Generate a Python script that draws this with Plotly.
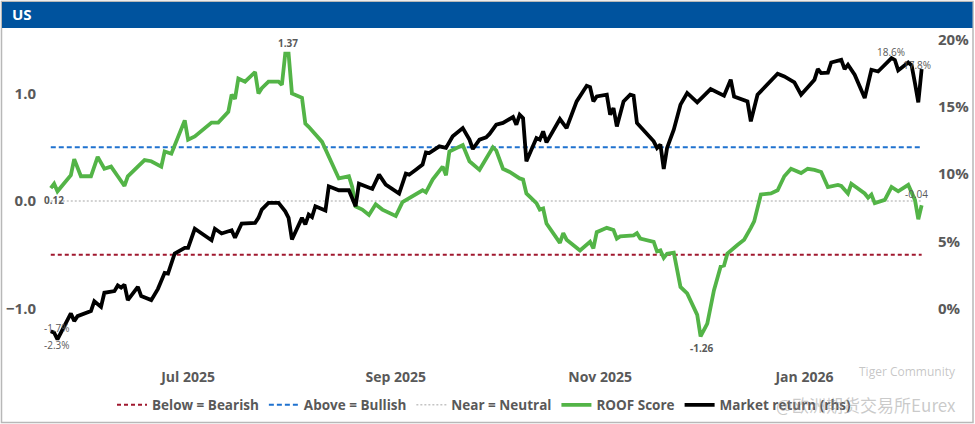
import plotly.graph_objects as go

# ---------------- DATA ----------------
roof_dates = [
    "2025-05-21", "2025-05-22", "2025-05-23", "2025-05-27", "2025-05-28", "2025-05-30",
    "2025-06-02", "2025-06-04", "2025-06-06", "2025-06-08", "2025-06-10", "2025-06-12",
    "2025-06-13", "2025-06-18", "2025-06-20", "2025-06-23", "2025-06-24", "2025-06-26",
    "2025-06-30", "2025-07-01", "2025-07-03", "2025-07-08", "2025-07-10", "2025-07-13",
    "2025-07-14", "2025-07-15", "2025-07-16", "2025-07-18", "2025-07-21", "2025-07-22",
    "2025-07-23", "2025-07-25", "2025-07-28", "2025-07-29", "2025-07-30", "2025-07-31",
    "2025-08-01", "2025-08-04", "2025-08-05", "2025-08-06", "2025-08-10", "2025-08-12",
    "2025-08-15", "2025-08-18", "2025-08-19", "2025-08-20", "2025-08-22", "2025-08-24",
    "2025-08-26", "2025-08-28", "2025-09-01", "2025-09-03", "2025-09-07", "2025-09-09",
    "2025-09-10", "2025-09-12", "2025-09-15", "2025-09-16", "2025-09-17", "2025-09-21",
    "2025-09-23", "2025-09-26", "2025-09-30", "2025-10-01", "2025-10-03", "2025-10-05",
    "2025-10-08", "2025-10-09", "2025-10-10", "2025-10-13", "2025-10-14", "2025-10-15",
    "2025-10-16", "2025-10-18", "2025-10-20", "2025-10-21", "2025-10-22", "2025-10-26",
    "2025-10-28", "2025-10-29", "2025-10-30", "2025-10-31", "2025-11-03", "2025-11-05",
    "2025-11-06", "2025-11-07", "2025-11-11", "2025-11-12", "2025-11-13", "2025-11-17",
    "2025-11-18", "2025-11-19", "2025-11-20", "2025-11-21", "2025-11-23", "2025-11-25",
    "2025-11-27", "2025-11-30", "2025-12-01", "2025-12-03", "2025-12-05", "2025-12-07",
    "2025-12-08", "2025-12-09", "2025-12-12", "2025-12-14", "2025-12-16", "2025-12-17",
    "2025-12-19", "2025-12-22", "2025-12-24", "2025-12-26", "2025-12-28", "2025-12-31",
    "2026-01-02", "2026-01-04", "2026-01-06", "2026-01-08", "2026-01-11", "2026-01-12",
    "2026-01-14", "2026-01-15", "2026-01-19", "2026-01-20", "2026-01-21", "2026-01-22",
    "2026-01-25", "2026-01-27", "2026-01-29", "2026-02-01", "2026-02-03", "2026-02-04",
    "2026-02-05",
]
roof_score = [
    0.12, 0.16, 0.09, 0.24, 0.39, 0.23,
    0.23, 0.41, 0.30, 0.32, 0.23, 0.14,
    0.23, 0.38, 0.37, 0.32, 0.46, 0.44,
    0.75, 0.57, 0.60, 0.73, 0.73, 0.83,
    0.99, 0.95, 1.14, 1.11, 1.20, 1.00,
    1.05, 1.11, 1.11, 1.08, 1.37, 1.37,
    1.00, 0.96, 0.72, 0.69, 0.55, 0.41,
    0.21, 0.23, 0.13, -0.05, -0.08, -0.13,
    -0.03, -0.08, -0.14, -0.01, 0.07, 0.10,
    0.08, 0.20, 0.32, 0.24, 0.46, 0.52,
    0.37, 0.29, 0.50, 0.47, 0.30, 0.27,
    0.21, 0.20, 0.07, -0.02, -0.08, -0.07,
    -0.21, -0.30, -0.39, -0.30, -0.36, -0.46,
    -0.40, -0.38, -0.44, -0.29, -0.25, -0.27,
    -0.35, -0.33, -0.32, -0.30, -0.35, -0.38,
    -0.47, -0.46, -0.53, -0.49, -0.48, -0.80,
    -0.86, -1.06, -1.26, -1.14, -0.83, -0.61,
    -0.60, -0.49, -0.41, -0.36, -0.25, -0.19,
    0.06, 0.07, 0.10, 0.23, 0.30, 0.26,
    0.30, 0.29, 0.27, 0.13, 0.15, 0.14,
    0.07, 0.16, 0.07, 0.03, 0.06, -0.02,
    0.01, 0.13, 0.09, 0.15, 0.01, -0.17,
    -0.04,
]

market_dates = [
    "2025-05-21", "2025-05-22", "2025-05-23", "2025-05-27", "2025-05-28", "2025-05-29",
    "2025-06-02", "2025-06-03", "2025-06-05", "2025-06-06", "2025-06-09", "2025-06-10",
    "2025-06-11", "2025-06-12", "2025-06-13", "2025-06-16", "2025-06-17", "2025-06-20",
    "2025-06-22", "2025-06-24", "2025-06-25", "2025-06-27", "2025-06-30", "2025-07-01",
    "2025-07-03", "2025-07-08", "2025-07-09", "2025-07-11", "2025-07-14", "2025-07-15",
    "2025-07-17", "2025-07-21", "2025-07-22", "2025-07-23", "2025-07-25", "2025-07-28",
    "2025-07-30", "2025-07-31", "2025-08-01", "2025-08-04", "2025-08-05", "2025-08-06",
    "2025-08-07", "2025-08-08", "2025-08-11", "2025-08-12", "2025-08-15", "2025-08-18",
    "2025-08-20", "2025-08-21", "2025-08-25", "2025-08-27", "2025-08-29", "2025-09-02",
    "2025-09-04", "2025-09-05", "2025-09-07", "2025-09-09", "2025-09-10", "2025-09-11",
    "2025-09-14", "2025-09-16", "2025-09-18", "2025-09-21", "2025-09-23", "2025-09-24",
    "2025-09-26", "2025-09-28", "2025-09-29", "2025-10-01", "2025-10-03", "2025-10-06",
    "2025-10-07", "2025-10-08", "2025-10-09", "2025-10-10", "2025-10-13", "2025-10-14",
    "2025-10-15", "2025-10-16", "2025-10-20", "2025-10-22", "2025-10-25", "2025-10-28",
    "2025-10-29", "2025-10-30", "2025-10-31", "2025-11-03", "2025-11-04", "2025-11-05",
    "2025-11-06", "2025-11-08", "2025-11-10", "2025-11-11", "2025-11-12", "2025-11-13",
    "2025-11-17", "2025-11-18", "2025-11-19", "2025-11-20", "2025-11-21", "2025-11-23",
    "2025-11-25", "2025-11-27", "2025-11-30", "2025-12-04", "2025-12-08", "2025-12-10",
    "2025-12-11", "2025-12-15", "2025-12-16", "2025-12-18", "2025-12-21", "2025-12-24",
    "2025-12-26", "2025-12-29", "2025-12-31", "2026-01-04", "2026-01-05", "2026-01-06",
    "2026-01-08", "2026-01-09", "2026-01-12", "2026-01-13", "2026-01-14", "2026-01-16",
    "2026-01-19", "2026-01-21", "2026-01-23", "2026-01-25", "2026-01-27", "2026-01-28",
    "2026-01-29", "2026-02-01", "2026-02-02", "2026-02-03", "2026-02-04", "2026-02-05",
]
market_return = [
    -1.7, -1.8, -2.3, -0.37, -0.94, -0.57,
    -0.2, 0.54, 0.12, 1.17, 1.29, 1.71,
    1.55, 1.78, 0.62, 1.61, 0.92, 0.62,
    1.46, 2.65, 2.6, 4.09, 4.51, 4.51,
    5.93, 5.08, 5.93, 5.58, 5.82, 5.26,
    6.32, 6.37, 6.74, 7.36, 7.86, 7.86,
    7.23, 6.74, 5.13, 6.74, 6.25, 6.99,
    6.8, 7.61, 7.29, 9.09, 8.8, 8.8,
    7.61, 9.29, 8.9, 9.96, 9.22, 8.55,
    10.04, 9.96, 10.33, 10.71, 11.62, 11.57,
    12.07, 11.95, 12.81, 13.43, 12.57, 11.87,
    12.57, 12.74, 12.99, 13.68, 13.81, 14.25,
    13.68, 14.42, 14.17, 10.95, 12.69, 12.57,
    13.18, 12.36, 14.1, 13.43, 15.41, 16.58,
    16.48, 15.41, 15.78, 15.91, 14.42, 14.92,
    13.55, 15.41, 15.91, 15.84, 13.81, 13.55,
    12.44, 11.95, 12.2, 10.39, 11.95, 13.31,
    15.17, 16.04, 15.34, 16.33, 15.84, 17.03,
    15.78, 15.41, 13.93, 15.91, 16.65, 17.47,
    17.27, 16.83, 15.91, 17.03, 17.82, 17.52,
    17.55, 18.31, 18.51, 17.82, 18.14, 17.4,
    15.67, 17.77, 17.64, 18.14, 18.64, 18.5,
    17.72, 18.31, 18.1, 16.78, 15.34, 17.82,
]

bearish_level = -0.5
bullish_level = 0.5
neutral_level = 0.0

series_names = ["Below = Bearish", "Above = Bullish", "Near = Neutral",
                "ROOF Score", "Market return (rhs)"]
left_ticks = [-1.0, 0.0, 1.0]
right_ticks = [0, 5, 10, 15, 20]
right_labels = ["0%", "5%", "10%", "15%", "20%"]
month_ticks = ["2025-07-01", "2025-09-01", "2025-11-01", "2026-01-01"]
month_labels = ["Jul 2025", "Sep 2025", "Nov 2025", "Jan 2026"]

# ---------------- FIGURE ----------------
FONT = "Open Sans"
GREY = "#595959"
GREEN = "#53B447"

span = [roof_dates[0], roof_dates[-1]]

fig = go.Figure()
fig.add_trace(go.Scatter(x=span, y=[bearish_level] * 2, mode="lines", name=series_names[0],
                         line=dict(color="#A0182F", width=2, dash="4px,3px")))
fig.add_trace(go.Scatter(x=span, y=[bullish_level] * 2, mode="lines", name=series_names[1],
                         line=dict(color="#1F72CF", width=2, dash="5px,3px")))
fig.add_trace(go.Scatter(x=span, y=[neutral_level] * 2, mode="lines", name=series_names[2],
                         line=dict(color="#C4C4C4", width=1.6, dash="2px,2px")))
fig.add_trace(go.Scatter(x=roof_dates, y=roof_score, mode="lines", name=series_names[3],
                         line=dict(color=GREEN, width=3.8)))
fig.add_trace(go.Scatter(x=market_dates, y=market_return, mode="lines", name=series_names[4],
                         yaxis="y2", line=dict(color="#000000", width=3.8)))

L, R, T, B = 47, 50, 30, 69
W, H = 975, 424
pw, ph = W - L - R, H - T - B


def px(xp):
    return (xp - L) / pw


def py(yp):
    return (H - B - yp) / ph


shapes = [
    dict(type="rect", xref="paper", yref="paper", x0=px(1.5), x1=px(973), y0=py(422.5), y1=py(1.5),
         line=dict(color="#B8B8B8", width=1.5), fillcolor="rgba(0,0,0,0)", layer="below"),
    dict(type="rect", xref="paper", yref="paper", x0=px(2), x1=px(972.5), y0=py(28), y1=py(2),
         line=dict(width=0), fillcolor="#00539E", layer="below"),
]

ann_font = dict(family=FONT, size=10, color=GREY)
annotations = [
    dict(xref="paper", yref="paper", x=px(10), y=py(14), text="<b>US</b>", showarrow=False,
         xanchor="left", yanchor="middle", font=dict(family=FONT, size=15, color="white")),
    dict(x=roof_dates[34], y=roof_score[34], text="<b>1.37</b>", showarrow=False,
         yshift=11, xshift=3, font=ann_font),
    dict(x=roof_dates[0], y=roof_score[0], text="<b>0.12</b>", showarrow=False,
         yshift=-12, xshift=3, font=ann_font),
    dict(x=roof_dates[98], y=roof_score[98], text="<b>-1.26</b>", showarrow=False,
         yshift=-12, xshift=1, font=ann_font),
    dict(x=roof_dates[-1], y=roof_score[-1], text="-0.04", showarrow=False,
         yshift=11, xshift=-5, font=ann_font),
    dict(x=market_dates[0], y=market_return[0], yref="y2", text="-1.7%", showarrow=False,
         yshift=3, xshift=6, font=ann_font),
    dict(x=market_dates[2], y=market_return[2], yref="y2", text="-2.3%", showarrow=False,
         yshift=-6, xshift=0, font=ann_font),
    dict(x=market_dates[-8], y=market_return[-8], yref="y2", text="18.6%", showarrow=False,
         yshift=6, xshift=-1, font=ann_font),
    dict(x=market_dates[-1], y=market_return[-1], yref="y2", text="17.8%", showarrow=False,
         yshift=4, xshift=-5, font=ann_font),
    # watermark
    dict(xref="paper", yref="paper", x=px(857), y=py(371), text="Tiger Community", showarrow=False,
         xanchor="left", yanchor="middle",
         font=dict(family=FONT, size=12, color="rgba(150,150,150,0.55)")),
    dict(xref="paper", yref="paper", x=px(958), y=py(404), text="@欧洲期货交易所Eurex", showarrow=False,
         xanchor="right", yanchor="middle",
         font=dict(family="Noto Sans CJK SC", size=17, color="rgba(150,150,150,0.5)")),
]

fig.update_layout(
    width=W, height=H,
    margin=dict(l=L, r=R, t=T, b=B, pad=0, autoexpand=False),
    paper_bgcolor="white", plot_bgcolor="white",
    font=dict(family=FONT, color=GREY),
    showlegend=True,
    legend=dict(orientation="h", x=px(484), xanchor="center", y=py(405), yanchor="middle",
                font=dict(family=FONT, size=13.5, color=GREY, weight="bold"),
                bgcolor="rgba(0,0,0,0)", itemwidth=30, tracegroupgap=0),
    xaxis=dict(type="date", range=["2025-05-19 21:00", "2026-02-06"],
               tickvals=month_ticks, ticktext=month_labels,
               showgrid=False, zeroline=False, showline=False, ticks="",
               ticklabelstandoff=12, automargin=False,
               tickfont=dict(family=FONT, size=14, color=GREY, weight="bold")),
    yaxis=dict(range=[-1.433, 1.591], tickvals=left_ticks, tickformat=".1f",
               showgrid=False, zeroline=False, showline=False, ticks="",
               ticklabelstandoff=10, automargin=False,
               tickfont=dict(family=FONT, size=15, color=GREY, weight="bold")),
    yaxis2=dict(overlaying="y", side="right", range=[8 * (1 - 1.433), 8 * (1 + 1.591)],
                tickmode="array", tickvals=right_ticks, ticktext=right_labels,
                showgrid=False, zeroline=False, showline=False, ticks="",
                ticklabelstandoff=12, automargin=False,
                tickfont=dict(family=FONT, size=15, color=GREY, weight="bold")),
    shapes=shapes,
    annotations=annotations,
)

fig.write_html(
    "out.html",
    config={"displayModeBar": False},
    post_script="document.body.style.margin='0';document.body.style.overflow='hidden';",
)
